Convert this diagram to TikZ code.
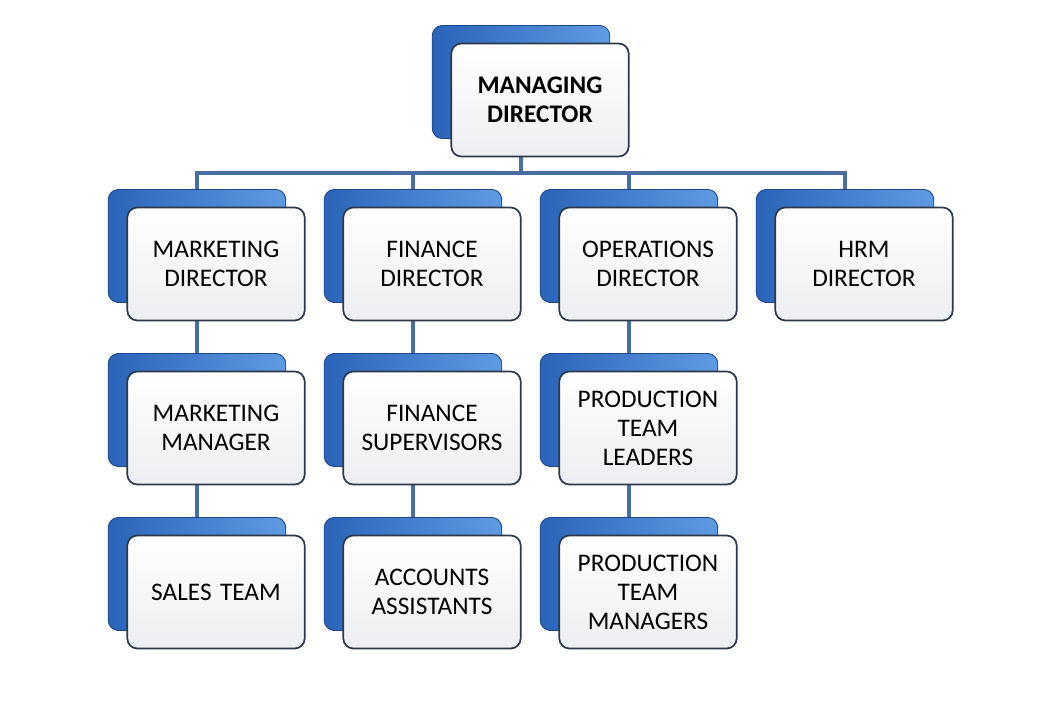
\documentclass[tikz,border=0pt]{standalone}
\usepackage{fontspec}
\setmainfont{Carlito}
\usetikzlibrary{positioning,shadows,backgrounds}

\definecolor{postframe}{RGB}{45,55,75}
\definecolor{postgray}{RGB}{236,238,241}
\definecolor{backdark}{RGB}{42,100,185}
\definecolor{backlight}{RGB}{95,155,225}
\definecolor{backline}{RGB}{30,70,140}
\definecolor{linkblue}{RGB}{72,110,165}

\tikzset{
  post/.style={rectangle, rounded corners=0.25cm, draw=postframe, line width=1.2pt,
    top color=white, bottom color=postgray,
    minimum width=4.425cm, minimum height=2.825cm, text width=4.2cm, align=center,
    font=\fontsize{18}{20.6}\selectfont,
    copy shadow={shadow xshift=-0.475cm, shadow yshift=0.45cm, draw=backline,
      left color=backdark, right color=backlight, line width=0.6pt}},
  link/.style={draw=linkblue, line width=2.2pt}
}

\begin{document}
\begin{tikzpicture}[on grid, node distance=4.1cm and 5.4cm]
  \useasboundingbox (0,0) rectangle (26.45,-18.075);

  % top
  \node[post, font=\bfseries\fontsize{18}{20.6}\selectfont] (md) at (13.5,-2.5) {MANAGING\\DIRECTOR};

  % directors
  \node[post] (fin) [below=of md, xshift=-2.7cm] {FINANCE\\DIRECTOR};
  \node[post] (mkt) [left=of fin]                {MARKETING\\DIRECTOR};
  \node[post] (ops) [right=of fin]               {OPERATIONS\\DIRECTOR};
  \node[post] (hrm) [right=of ops]               {HRM\\DIRECTOR};

  % lower levels
  \node[post] (mktm)   [below=of mkt]    {MARKETING\\MANAGER};
  \node[post] (sales)  [below=of mktm]   {SALES TEAM};
  \node[post] (finsup) [below=of fin]    {FINANCE\\SUPERVISORS};
  \node[post] (acc)    [below=of finsup] {ACCOUNTS\\ASSISTANTS};
  \node[post] (ptl)    [below=of ops]    {PRODUCTION\\TEAM\\LEADERS};
  \node[post] (ptm)    [below=of ptl]    {PRODUCTION\\TEAM\\MANAGERS};

  \coordinate (bus) at (0,-4.325);

  % lines run behind the blue boxes
  \begin{scope}[on background layer]
  \begin{scope}[transform canvas={xshift=-0.475cm}]
    \draw[link] (md) -- (md |- bus) -| (mkt);
    \draw[link] (md |- bus) -| (fin);
    \draw[link] (md |- bus) -| (ops);
    \draw[link] (md |- bus) -| (hrm);

    \draw[link] (mkt) -- (mktm) -- (sales);
    \draw[link] (fin) -- (finsup) -- (acc);
    \draw[link] (ops) -- (ptl) -- (ptm);
  \end{scope}
  \end{scope}
\end{tikzpicture}
\end{document}
